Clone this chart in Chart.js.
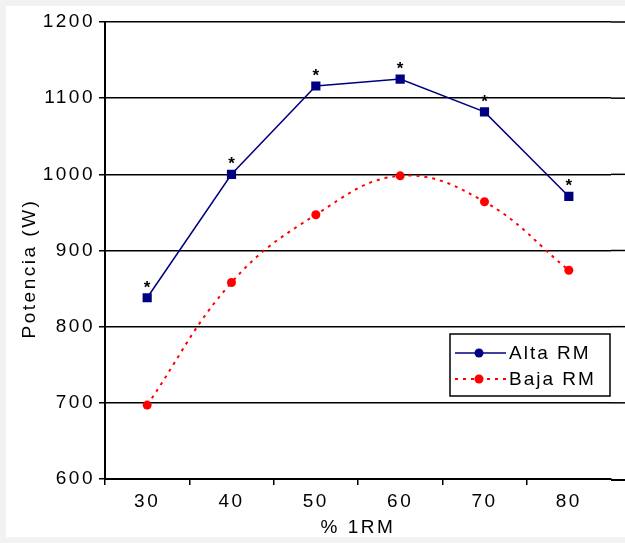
<!DOCTYPE html>
<html>
<head>
<meta charset="utf-8">
<script src="https://cdn.jsdelivr.net/npm/chart.js@4.4.1/dist/chart.umd.min.js"></script>
<style>
  html, body { margin: 0; padding: 0; background: #f2f2f2; }
  #wrap { position: absolute; left: 6px; top: 6px; width: 619px; height: 531px; background: #fff; }
</style>
</head>
<body>
<div id="wrap"><canvas id="myChart" width="619" height="531"></canvas></div>
<script>
const categories = ['30', '40', '50', '60', '70', '80'];
const altaRM = [838, 1000, 1116, 1125, 1082, 971];
const bajaRM = [697, 858, 947, 998, 964, 874];
const altaMarks = ['*', '*', '*', '*', '*', '*'];
const yMin = 600, yMax = 1200, yStep = 100;
const yTitle = 'Potencia (W)';

const FONT = 'Liberation Sans, Arial, sans-serif';
const SPACING = '2.5px';

// wider letter spacing for all chart text
const spacing = {
  id: 'spacing',
  beforeLayout(chart) { chart.ctx.letterSpacing = SPACING; },
  beforeDraw(chart) { chart.ctx.letterSpacing = SPACING; }
};

// y axis title, sitting a little below the middle of the axis
const yTitlePlugin = {
  id: 'yTitle',
  afterDraw(chart) {
    const ctx = chart.ctx;
    const a = chart.chartArea;
    ctx.save();
    ctx.translate(24, (a.top + a.bottom) / 2 + 18);
    ctx.rotate(-Math.PI / 2);
    ctx.font = '19px ' + FONT;
    ctx.letterSpacing = SPACING;
    ctx.fillStyle = '#000';
    ctx.textAlign = 'center';
    ctx.textBaseline = 'middle';
    ctx.fillText(yTitle, 0, 0);
    ctx.restore();
  }
};

// horizontal grid and x axis run on to the right edge of the canvas
const gridRunout = {
  id: 'gridRunout',
  afterDraw(chart) {
    const ctx = chart.ctx;
    const a = chart.chartArea;
    const y = chart.scales.y;
    ctx.save();
    ctx.strokeStyle = '#000';
    ctx.lineWidth = 1.5;
    for (let v = yMin + yStep; v <= yMax; v += yStep) {
      const py = y.getPixelForValue(v);
      ctx.beginPath();
      ctx.moveTo(a.right, py);
      ctx.lineTo(chart.width, py);
      ctx.stroke();
    }
    ctx.lineWidth = 2;
    ctx.beginPath();
    ctx.moveTo(a.right, a.bottom + 1);
    ctx.lineTo(chart.width, a.bottom + 1);
    ctx.stroke();
    ctx.restore();
  }
};

// asterisks over the Alta RM points
const starPlugin = {
  id: 'stars',
  afterDatasetsDraw(chart) {
    const ctx = chart.ctx;
    const meta = chart.getDatasetMeta(0);
    ctx.save();
    ctx.fillStyle = '#000';
    ctx.font = 'bold 17px ' + FONT;
    ctx.letterSpacing = '0px';
    ctx.textAlign = 'center';
    ctx.textBaseline = 'alphabetic';
    meta.data.forEach((pt, i) => {
      if (altaMarks[i]) ctx.fillText(altaMarks[i], pt.x, pt.y - 5);
    });
    ctx.restore();
  }
};

// boxed legend in the lower right of the plot
const boxLegend = {
  id: 'boxLegend',
  afterDraw(chart) {
    const ctx = chart.ctx;
    const a = chart.chartArea;
    const w = 160, h = 62;
    const x = a.right - w - 1, y = a.top + 312;
    ctx.save();
    ctx.fillStyle = '#fff';
    ctx.fillRect(x, y, w, h);
    ctx.strokeStyle = '#000';
    ctx.lineWidth = 1.5;
    ctx.strokeRect(x, y, w, h);
    ctx.font = '19px ' + FONT;
    ctx.letterSpacing = '2px';
    ctx.textBaseline = 'middle';
    chart.data.datasets.forEach((ds, i) => {
      const ly = y + 19 + i * 26;
      ctx.strokeStyle = ds.borderColor;
      ctx.lineWidth = ds.borderWidth;
      ctx.setLineDash(ds.borderDash || []);
      ctx.beginPath();
      ctx.moveTo(x + 5, ly);
      ctx.lineTo(x + 56, ly);
      ctx.stroke();
      ctx.setLineDash([]);
      ctx.fillStyle = ds.pointBackgroundColor;
      ctx.beginPath();
      ctx.arc(x + 29, ly, 4.5, 0, Math.PI * 2);
      ctx.fill();
      ctx.fillStyle = '#000';
      ctx.fillText(ds.label, x + 59, ly + 1);
    });
    ctx.restore();
  }
};

const ctx = document.getElementById('myChart').getContext('2d');
const myChart = new Chart(ctx, {
  type: 'line',
  data: {
    labels: categories,
    datasets: [
      {
        label: 'Alta RM',
        data: altaRM,
        borderColor: '#000080',
        backgroundColor: '#000080',
        pointBackgroundColor: '#000080',
        borderWidth: 1.5,
        pointStyle: 'rect',
        pointRadius: 6.5,
        pointBorderWidth: 0,
        tension: 0
      },
      {
        label: 'Baja RM',
        data: bajaRM,
        borderColor: '#ff0000',
        backgroundColor: '#ff0000',
        pointBackgroundColor: '#ff0000',
        borderWidth: 2,
        borderDash: [3, 5],
        pointStyle: 'circle',
        pointRadius: 4.5,
        pointBorderWidth: 0,
        tension: 0.4
      }
    ]
  },
  options: {
    responsive: false,
    animation: false,
    layout: { padding: { top: 16, right: 14, left: 0, bottom: 0 } },
    plugins: {
      legend: { display: false },
      tooltip: { enabled: false }
    },
    scales: {
      x: {
        offset: true,
        grid: {
          offset: true, drawOnChartArea: false, drawTicks: true, tickLength: 6, lineWidth: 1.5,
          // no tick at the far right end
          color: (c) => (c.type === 'tick' ? '#000' : 'rgba(0,0,0,0)')
        },
        border: { color: '#000', width: 2 },
        ticks: { color: '#000', font: { family: FONT, size: 19 }, padding: 5 },
        title: { display: true, text: '% 1RM', color: '#000', font: { family: FONT, size: 19 }, padding: { top: 8, bottom: -2 } },
        afterFit(scale) { scale.height = 58; }
      },
      y: {
        min: yMin,
        max: yMax,
        ticks: {
          stepSize: yStep, color: '#000', font: { family: FONT, size: 19 }, padding: 4,
          callback: (v) => String(v)
        },
        grid: { color: '#000', lineWidth: 1.5, tickLength: 6 },
        border: { color: '#000', width: 2 },
        title: { display: false },
        afterFit(scale) { scale.width = 99; }
      }
    }
  },
  plugins: [spacing, gridRunout, starPlugin, boxLegend, yTitlePlugin]
});
</script>
</body>
</html>
